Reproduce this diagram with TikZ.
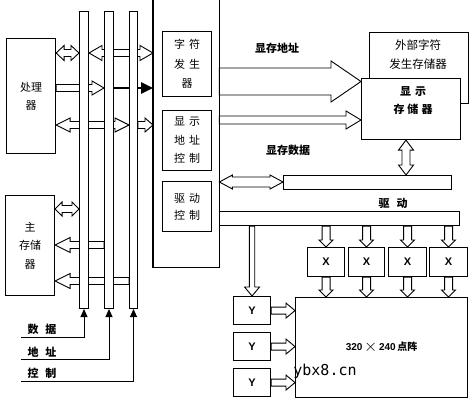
\documentclass[tikz,border=0pt]{standalone}
\usepackage{fontspec}
\newfontfamily\cjk{Noto Sans CJK SC}
\newfontfamily\lsans{Liberation Sans}
\newfontfamily\wmono{DejaVu Sans Mono}
\usetikzlibrary{calc,arrows.meta}
\pgfdeclarelayer{bg}
\pgfsetlayers{bg,main}
% hollow single arrow: tail, tip, shaft half width, head half width, head length
\newcommand\fatone[5]{%
  \coordinate (fT) at #1; \coordinate (fP) at #2;
  \draw[fat] ($(fT)!#3!90:(fP)$) -- ($(fP)!#5!(fT)!#3!90:(fP)$) -- ($(fP)!#5!(fT)!#4!90:(fP)$) -- (fP)
    -- ($(fP)!#5!(fT)!#4!-90:(fP)$) -- ($(fP)!#5!(fT)!#3!-90:(fP)$) -- ($(fT)!#3!-90:(fP)$) -- cycle;}
% hollow double arrow
\newcommand\fattwo[5]{%
  \coordinate (fT) at #1; \coordinate (fP) at #2;
  \draw[fat] ($(fT)!#5!(fP)!#3!90:(fP)$) -- ($(fP)!#5!(fT)!#3!90:(fP)$) -- ($(fP)!#5!(fT)!#4!90:(fP)$) -- (fP)
    -- ($(fP)!#5!(fT)!#4!-90:(fP)$) -- ($(fP)!#5!(fT)!#3!-90:(fP)$) -- ($(fT)!#5!(fP)!#3!-90:(fP)$)
    -- ($(fT)!#5!(fP)!#4!-90:(fP)$) -- (fT) -- ($(fT)!#5!(fP)!#4!90:(fP)$) -- cycle;}
\begin{document}
\begin{tikzpicture}[x=1pt,y=-1pt,
  box/.style={draw, line width=1.1pt, fill=white, inner sep=0pt, anchor=north west, align=center,
    font=\cjk\fontsize{11pt}{18pt}\selectfont},
  bus/.style={draw, line width=1pt, fill=white, inner sep=0pt, anchor=north west, minimum height=297pt},
  fat/.style={draw, line width=0.9pt, fill=white, line join=miter},
  lbl/.style={inner sep=0pt, font=\cjk\bfseries\fontsize{11pt}{13pt}\selectfont},
  xy/.style={box, font=\lsans\bfseries\fontsize{11pt}{13pt}\selectfont},
  feed/.style={line width=1pt, -{Triangle[length=8pt,width=7pt]}}
]
\begin{pgfonlayer}{bg}
\fill[white] (0,0) rectangle (473,403);
\end{pgfonlayer}
\useasboundingbox (0,0) rectangle (473,403);

% left blocks
\node[box, minimum width=49pt, minimum height=115pt] (proc) at (6,38) {处理\\器};
\node[box, minimum width=49pt, minimum height=100pt, font=\cjk\fontsize{11pt}{18.5pt}\selectfont] (mem) at (5,195) {主\\存储\\器};

% buses
\node[bus, minimum width=9pt] (bus1) at (79,11) {};
\node[bus, minimum width=9pt] (bus2) at (104,11) {};
\node[bus, minimum width=8pt] (bus3) at (129,11) {};

% controller
\node[draw=none, inner sep=0pt, anchor=north west, minimum width=66pt, minimum height=267pt] (ctrl) at (153,0) {};
\draw[line width=1.1pt] (ctrl.north west) -- (ctrl.south west) -- (ctrl.south east) -- (ctrl.north east);
\node[box, minimum width=49pt, minimum height=65pt, font=\cjk\fontsize{11pt}{19.5pt}\selectfont] (cg) at (162,31) {字\hspace{4pt}符\\发\hspace{4pt}生\\器};
\node[box, minimum width=49pt, minimum height=60pt, font=\cjk\fontsize{11pt}{18.5pt}\selectfont] (dac) at (162,110) {显\hspace{4pt}示\\地\hspace{4pt}址\\控\hspace{4pt}制};
\node[box, minimum width=49pt, minimum height=50pt, font=\cjk\fontsize{11pt}{17pt}\selectfont] (drc) at (162,181) {驱\hspace{4pt}动\\控\hspace{4pt}制};

% memories on the right
\node[box, minimum width=99pt, minimum height=71pt] (ext) at (369,32) {};
\node[lbl, font=\cjk\fontsize{11.5pt}{19pt}\selectfont, align=center] (extt) at (418,54.5) {外部字符\\发生存储器};
\node[box, minimum width=99pt, minimum height=61pt] (dm) at (361,78) {};
\node[lbl, font=\cjk\bfseries\fontsize{11pt}{18pt}\selectfont, align=center] (dmt) at (413,101) {显\hspace{4pt}示\\存\hspace{3pt}储\hspace{3pt}器};

% bars
\node[box, minimum width=168pt, minimum height=14pt] (dbar) at (283,175) {};
\node[box, minimum width=240pt, minimum height=14pt] (drv) at (219,211) {};

% X, Y and matrix
\node[xy, minimum width=37pt, minimum height=29pt] (xa) at (307,247) {X};
\node[xy, minimum width=36pt, minimum height=29pt] (xb) at (348,247) {X};
\node[xy, minimum width=38pt, minimum height=29pt] (xc) at (388,247) {X};
\node[xy, minimum width=38pt, minimum height=29pt] (xd) at (429,247) {X};
\node[box, minimum width=172pt, minimum height=100pt, font=\lsans\bfseries\fontsize{10pt}{12pt}\selectfont] (mat) at (295,297)
  {320\,\raisebox{-1pt}{\mdseries\scalebox{1.7}{$\times$}}\,240\,{\cjk\bfseries 点阵}};
\node[xy, minimum width=37pt, minimum height=28pt] (ya) at (233,296) {Y};
\node[xy, minimum width=37pt, minimum height=28pt] (yb) at (233,332) {Y};
\node[xy, minimum width=37pt, minimum height=28pt] (yc) at (233,368) {Y};

% labels
\node[lbl] (laddr) at (277,48) {显存地址};
\node[lbl] (ldata) at (288,150) {显存数据};
\node[lbl] (ldrv) at (393,203) {驱\hspace{7pt}动};
\node[lbl] (lD) at (42,329) {数\hspace{7pt}据};
\node[lbl] (lA) at (42,352) {地\hspace{7pt}址};
\node[lbl] (lC) at (42,373) {控\hspace{7pt}制};
\node[inner sep=0pt, font=\wmono\fontsize{15pt}{17pt}\selectfont] (wm) at (325,371) {ybx8.cn};

% row levels
\coordinate (r1) at (0,53);
\coordinate (r2) at (0,88);
\coordinate (r3) at (0,125);
\coordinate (r4) at (0,209);
\coordinate (r5) at (0,245);
\coordinate (r6) at (0,281);
\coordinate (ra1) at (0,81.5);
\coordinate (ra2) at (0,120);
\coordinate (rd) at (0,182);
\coordinate (cv) at (406,0);
\coordinate (dS) at (21,337);
\coordinate (aS) at (21,359);
\coordinate (cS) at (21,381);

\begin{pgfonlayer}{bg}
\fattwo{(proc.east|-r1)}{(bus1.west|-r1)}{3.5pt}{7.5pt}{8pt}
\fattwo{(bus1.east|-r1)}{(ctrl.west|-r1)}{3.5pt}{7.5pt}{13pt}
\fatone{(proc.east|-r2)}{(bus2.west|-r2)}{3.5pt}{7pt}{12pt}
\draw[line width=2.5pt,-{Triangle[length=12pt,width=11pt]}] (bus2.east|-r2) -- (ctrl.west|-r2);
\fattwo{(proc.east|-r3)}{(bus3.west|-r3)}{3.5pt}{7pt}{14pt}
\fatone{(bus3.east|-r3)}{(ctrl.west|-r3)}{3.5pt}{7pt}{8pt}
\fattwo{(mem.east|-r4)}{(bus1.west|-r4)}{3.5pt}{7pt}{7pt}
\fatone{(bus2.west|-r5)}{(mem.east|-r5)}{3.5pt}{7.5pt}{15pt}
\fatone{(bus3.west|-r6)}{(mem.east|-r6)}{3.5pt}{7.5pt}{15pt}
\fatone{(ctrl.east|-ra1)}{(dm.west|-ra1)}{13.5pt}{20.5pt}{30pt}
\fatone{(ctrl.east|-ra2)}{(dm.west|-ra2)}{4pt}{9pt}{15pt}
\fattwo{(dm.south-|cv)}{(dbar.north-|cv)}{4pt}{7.5pt}{10pt}
\fattwo{(ctrl.east|-rd)}{(dbar.west|-rd)}{5pt}{7pt}{13pt}
\fatone{(xa.north|-drv.south)}{(xa.north)}{4pt}{7pt}{7pt}
\fatone{(xb.north|-drv.south)}{(xb.north)}{4pt}{7pt}{7pt}
\fatone{(xc.north|-drv.south)}{(xc.north)}{4pt}{7pt}{7pt}
\fatone{(xd.north|-drv.south)}{(xd.north)}{4pt}{7pt}{7pt}
\fatone{(xa.south)}{(xa.south|-mat.north)}{4pt}{7pt}{7pt}
\fatone{(xb.south)}{(xb.south|-mat.north)}{4pt}{7pt}{7pt}
\fatone{(xc.south)}{(xc.south|-mat.north)}{4pt}{7pt}{7pt}
\fatone{(xd.south)}{(xd.south|-mat.north)}{4pt}{7pt}{7pt}
\fatone{(ya.north|-drv.south)}{(ya.north)}{2.7pt}{7.5pt}{9pt}
\fatone{(ya.east)}{(ya.east-|mat.west)}{3.5pt}{7.5pt}{9pt}
\fatone{(yb.east)}{(yb.east-|mat.west)}{3.5pt}{7.5pt}{9pt}
\fatone{(yc.east)}{(yc.east-|mat.west)}{3.5pt}{7.5pt}{9pt}
\end{pgfonlayer}

% bus feed lines
\draw[feed] (dS) -| (bus1.south);
\draw[feed] (aS) -| (bus2.south);
\draw[feed] (cS) -| (bus3.south);
\end{tikzpicture}
\end{document}
